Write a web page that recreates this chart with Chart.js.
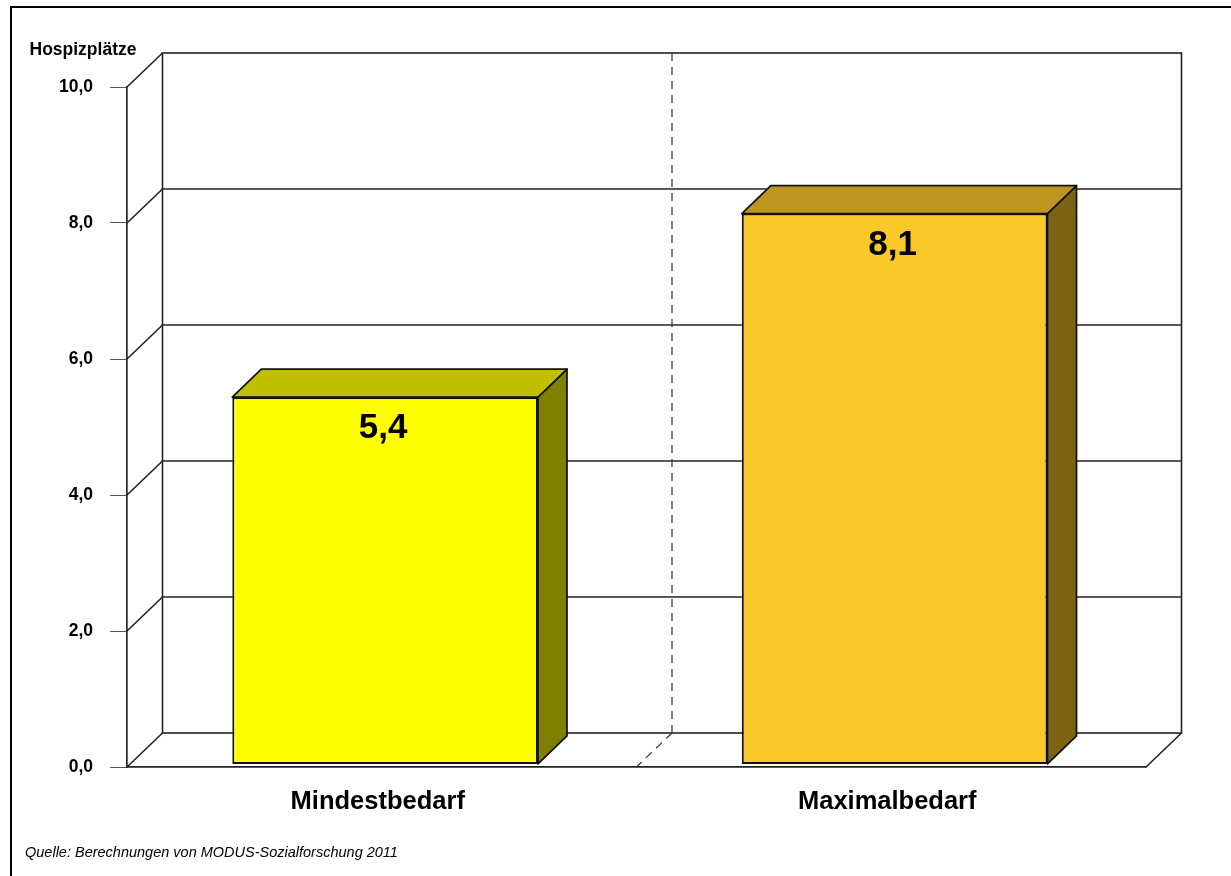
<!DOCTYPE html>
<html>
<head>
<meta charset="utf-8">
<style>html,body{margin:0;padding:0;background:#fff}canvas{display:block}</style>
<script src="https://cdn.jsdelivr.net/npm/chart.js@4"></script>
</head>
<body>
<canvas id="c" width="1231" height="876"></canvas>
<script>
const categories = ['Mindestbedarf', 'Maximalbedarf'];
const values = [5.4, 8.1];
const frontColors = ['#FFFF00', '#FAC828'];
const topColors = ['#C0C000', '#BC961E'];
const sideColors = ['#808000', '#7D6414'];
const axisTitle = 'Hospizplätze';
const sourceNote = 'Quelle: Berechnungen von MODUS-Sozialforschung 2011';
const FONT = '"Liberation Sans", Arial, sans-serif';
const fmt = v => Number(v).toFixed(1).replace('.', ',');
const WALL = {dx: 35.5, dy: -34};
const BAR_DEPTH = {dx: 29, dy: -28};
const BAR_SHIFT = {dx: 3.4, dy: -2.6};

function line(ctx, x1, y1, x2, y2) {
  ctx.beginPath(); ctx.moveTo(x1, y1); ctx.lineTo(x2, y2); ctx.stroke();
}
function poly(ctx, pts, fill) {
  ctx.beginPath();
  pts.forEach((p, i) => i ? ctx.lineTo(p[0], p[1]) : ctx.moveTo(p[0], p[1]));
  ctx.closePath();
  ctx.fillStyle = fill; ctx.fill();
  ctx.strokeStyle = '#111'; ctx.lineWidth = 1.7; ctx.lineJoin = 'round'; ctx.stroke();
}

const frame3d = {
  id: 'frame3d',
  beforeDraw(chart) {
    const ctx = chart.ctx;
    ctx.save();
    ctx.fillStyle = '#fff';
    ctx.fillRect(0, 0, chart.width, chart.height);
    ctx.strokeStyle = '#000';
    ctx.lineWidth = 2;
    ctx.beginPath();
    ctx.moveTo(11, chart.height + 2); ctx.lineTo(11, 7); ctx.lineTo(chart.width + 2, 7);
    ctx.stroke();
    ctx.fillStyle = '#000';
    ctx.textBaseline = 'alphabetic';
    ctx.textAlign = 'left';
    ctx.font = 'bold 17.5px ' + FONT;
    ctx.fillText(axisTitle, 29.5, 55);
    ctx.font = 'italic 14.5px ' + FONT;
    ctx.fillText(sourceNote, 25, 857);
    ctx.restore();
  },
  beforeDatasetsDraw(chart) {
    const ctx = chart.ctx, {left, right, top, bottom} = chart.chartArea;
    const y = chart.scales.y, x = chart.scales.x;
    ctx.save();
    ctx.strokeStyle = '#222';
    ctx.lineWidth = 1.6;
    // back wall
    ctx.strokeRect(left + WALL.dx, top + WALL.dy, right - left, bottom - top);
    y.ticks.forEach(t => {
      const py = y.getPixelForValue(t.value);
      line(ctx, left, py, left + WALL.dx, py + WALL.dy);
      if (t.value > 0 && t.value < y.max) line(ctx, left + WALL.dx, py + WALL.dy, right + WALL.dx, py + WALL.dy);
    });
    line(ctx, right, bottom, right + WALL.dx, bottom + WALL.dy);
    // dashed divider
    const mid = (x.getPixelForTick(0) + x.getPixelForTick(1)) / 2;
    ctx.setLineDash([8, 6]);
    ctx.lineWidth = 1.2;
    ctx.strokeStyle = '#333';
    line(ctx, mid + WALL.dx, top + WALL.dy, mid + WALL.dx, bottom + WALL.dy);
    line(ctx, mid + WALL.dx, bottom + WALL.dy, mid, bottom);
    ctx.setLineDash([]);
    // bar side and top faces, with the bars shifted off the floor edge
    ctx.translate(BAR_SHIFT.dx, BAR_SHIFT.dy);
    chart.getDatasetMeta(0).data.forEach((b, i) => {
      const l = b.x - b.width / 2, r = b.x + b.width / 2;
      const d = BAR_DEPTH;
      poly(ctx, [[r, b.y], [r + d.dx, b.y + d.dy], [r + d.dx, b.base + d.dy], [r, b.base]], sideColors[i]);
      poly(ctx, [[l, b.y], [l + d.dx, b.y + d.dy], [r + d.dx, b.y + d.dy], [r, b.y]], topColors[i]);
    });
    ctx.restore();
    ctx.save();
    ctx.translate(BAR_SHIFT.dx, BAR_SHIFT.dy);
  },
  afterDatasetsDraw(chart) {
    const ctx = chart.ctx;
    ctx.restore();
    ctx.save();
    ctx.fillStyle = '#000';
    ctx.font = 'bold 35px ' + FONT;
    ctx.textAlign = 'center';
    ctx.textBaseline = 'middle';
    chart.getDatasetMeta(0).data.forEach((b, i) => {
      ctx.fillText(fmt(values[i]), b.x + BAR_SHIFT.dx - 2, b.y + BAR_SHIFT.dy + 31.5);
    });
    ctx.restore();
  }
};

new Chart(document.getElementById('c'), {
  type: 'bar',
  data: {
    labels: categories,
    datasets: [{
      data: values,
      backgroundColor: frontColors,
      borderColor: '#111',
      borderWidth: 2,
      borderSkipped: false,
      barPercentage: 0.6,
      categoryPercentage: 1
    }]
  },
  options: {
    responsive: false,
    animation: false,
    layout: {padding: {top: 87, right: 85, left: 0, bottom: 0}},
    plugins: {legend: {display: false}, title: {display: false}, tooltip: {enabled: false}},
    scales: {
      x: {
        afterFit(s) { s.height = 109; },
        grid: {display: false, drawTicks: false},
        border: {display: true, color: '#222', width: 1.7},
        ticks: {
          color: '#000', padding: 20, labelOffset: -4, maxRotation: 0,
          font: {family: FONT, weight: 'bold', size: 25.5}
        }
      },
      y: {
        min: 0, max: 10,
        afterFit(s) { s.width = 127; },
        grid: {drawOnChartArea: false, drawTicks: true, tickLength: 17, tickColor: '#555', lineWidth: 1},
        border: {display: true, color: '#222', width: 1.7},
        ticks: {
          stepSize: 2, color: '#000', padding: 17,
          font: {family: FONT, weight: 'bold', size: 17.5},
          callback: v => fmt(v)
        }
      }
    }
  },
  plugins: [frame3d]
});
</script>
</body>
</html>
